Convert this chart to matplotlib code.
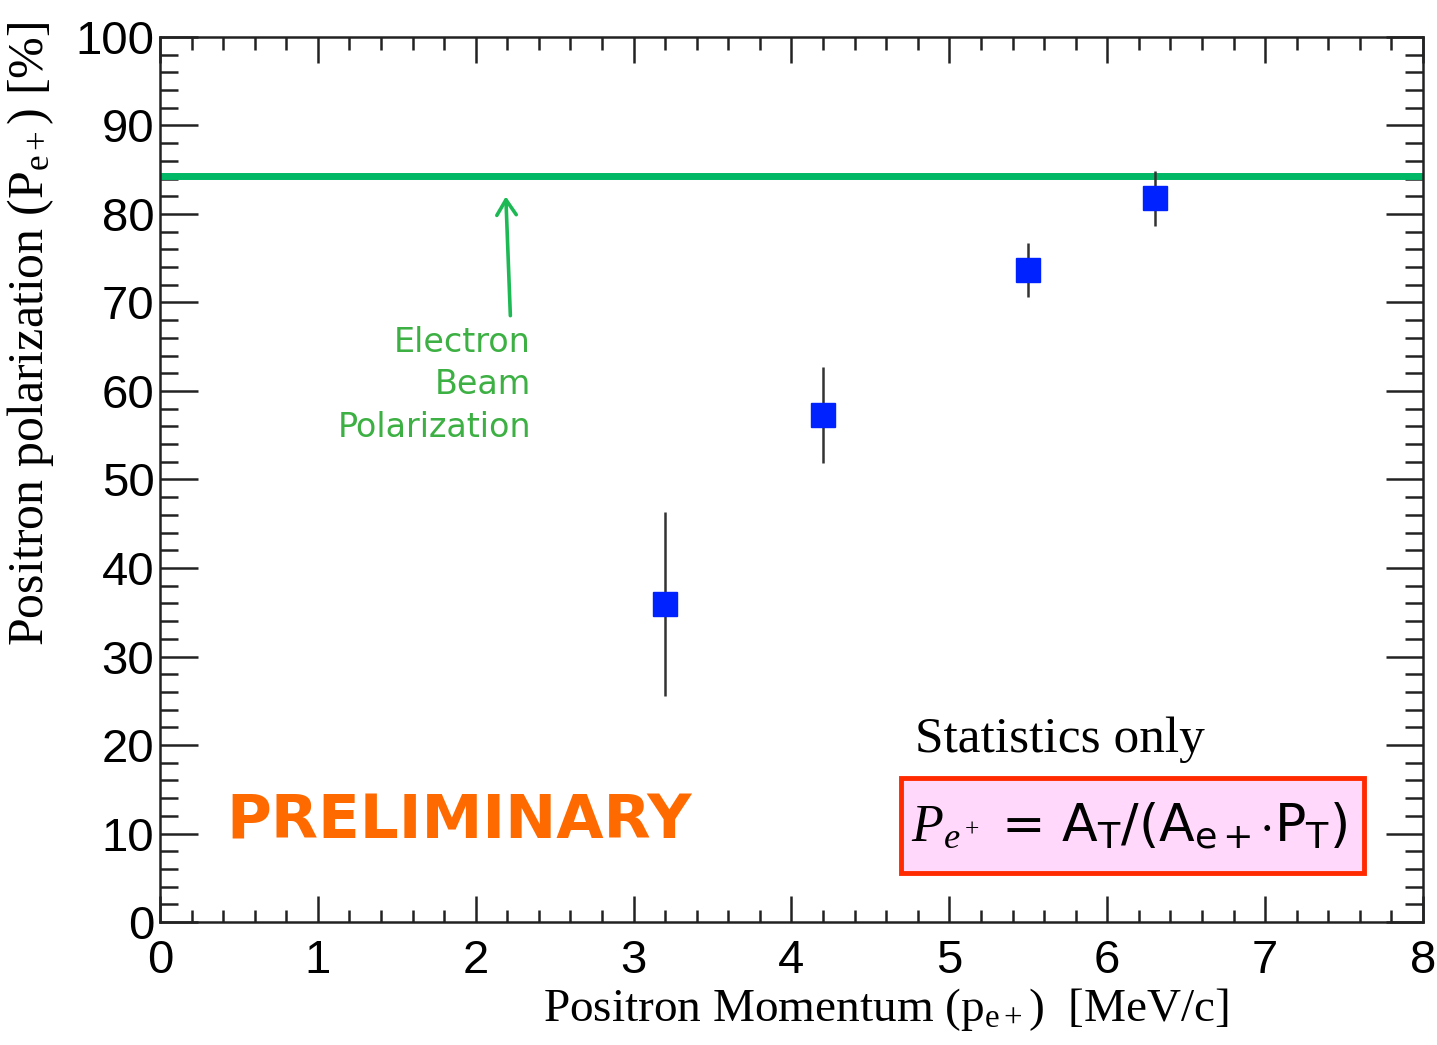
import matplotlib.pyplot as plt
from matplotlib.ticker import MultipleLocator
from matplotlib.patches import Rectangle

plt.rcParams.update({
    'font.family': ['Liberation Sans', 'DejaVu Sans'],
    'mathtext.fontset': 'custom',
    'mathtext.rm': 'Liberation Serif',
    'mathtext.it': 'Liberation Serif:italic',
})

# data
momentum = [3.2, 4.2, 5.5, 6.3]
polarization = [35.9, 57.3, 73.7, 81.8]
pol_err = [10.4, 5.4, 3.05, 3.1]
beam_pol = 84.3

fig = plt.figure(figsize=(14.37, 10.45), dpi=100)
ax = fig.add_axes([0.1113, 0.1177, 0.8790, 0.8469])

ax.axhline(beam_pol, color='#00b865', lw=5, zorder=2)
ax.errorbar(momentum, polarization, yerr=pol_err, fmt='s', color='#0022ff',
            markersize=17, ecolor='#333333', elinewidth=1.8, capsize=0, zorder=3)

ax.set_xlim(0, 8)
ax.set_ylim(0, 100)
ax.xaxis.set_major_locator(MultipleLocator(1))
ax.xaxis.set_minor_locator(MultipleLocator(0.2))
ax.yaxis.set_major_locator(MultipleLocator(10))
ax.yaxis.set_minor_locator(MultipleLocator(2))
ax.tick_params(axis='both', which='both', direction='in', top=True, right=True,
               width=1.8, colors='#222222', labelcolor='black', labelsize=34)
ax.tick_params(axis='x', which='major', length=19, pad=12)
ax.tick_params(axis='x', which='minor', length=9)
ax.tick_params(axis='y', which='major', length=27, pad=4)
ax.tick_params(axis='y', which='minor', length=13)
for s in ax.spines.values():
    s.set_linewidth(1.8)
    s.set_color('#222222')

ax.set_xlabel(r'Positron Momentum (p$_{\mathrm{e+}}$)  [MeV/c]', family='Liberation Serif',
              fontsize=34)
ax.xaxis.set_label_coords(0.575, -0.072)
ax.set_ylabel(r'Positron polarization (P$_{\mathrm{e+}}$) [%]', family='Liberation Serif',
              fontsize=36)
ax.yaxis.set_label_coords(-0.082, 0.665)

# annotation for the beam polarization
ax.annotate('', xy=(2.19, 82.3), xytext=(2.22, 68.2),
            arrowprops=dict(arrowstyle='->,head_length=1.1,head_width=0.7',
                            color='#1db954', lw=2.6))
ax.text(2.35, 67.4, 'Electron\nBeam\nPolarization', ha='right', va='top',
        color='#3cb043', fontsize=24, linespacing=1.38, family='DejaVu Sans')

ax.text(0.42, 11.3, 'PRELIMINARY', color='#ff6a00', fontsize=44, fontweight='bold',
        ha='left', va='center', family='DejaVu Sans')

ax.text(4.78, 20.6, 'Statistics only', family='Liberation Serif', fontsize=37,
        ha='left', va='center')

ax.add_patch(Rectangle((4.694, 5.54), 2.93, 10.73, facecolor='#ffd8fc',
                       edgecolor='#ff2a00', lw=3.5, zorder=4))
ax.text(4.76, 10.7,
        r'$P_{e^+}$' + ' = ' + r'A$_\mathsf{T}$/(A$_{\mathsf{e+}}$$\cdot$P$_\mathsf{T}$)',
        fontsize=37.5, ha='left', va='center', family='DejaVu Sans', zorder=5)

fig.savefig('out.png', dpi=100)
